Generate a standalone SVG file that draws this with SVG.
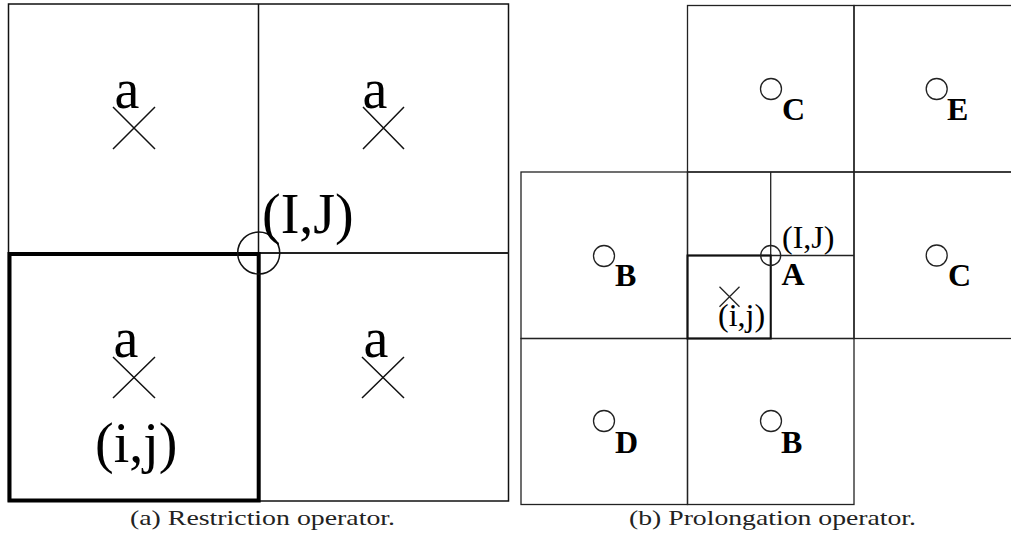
<svg xmlns="http://www.w3.org/2000/svg" width="1011" height="537" viewBox="0 0 1011 537">
<style>
.thin{fill:none;stroke:#111;stroke-width:1.5}
.rthin{fill:none;stroke:#222;stroke-width:1.3}
.thick{fill:none;stroke:#000;stroke-width:4}
.mid{fill:none;stroke:#222;stroke-width:2.2}
.big{font-family:"Liberation Serif","Times New Roman",serif;font-size:56px;fill:#000}
.sm{font-family:"Liberation Serif","Times New Roman",serif;font-size:32px;fill:#000}
.bold{font-family:"Liberation Serif","Times New Roman",serif;font-size:32px;font-weight:bold;fill:#000}
.cap{font-family:"Liberation Serif","Times New Roman",serif;font-size:21px;fill:#222}
</style>
<rect width="1011" height="537" fill="#fff"/>
<g id="panel-a">
  <g id="grid-a">
    <rect class="thin" x="8.5" y="4" width="500" height="497"/>
    <line class="thin" x1="258.5" y1="4" x2="258.5" y2="501"/>
    <line class="mid" x1="8.5" y1="253" x2="508.5" y2="253"/>
    <rect class="thick" x="9.5" y="254" width="249.2" height="246.5"/>
  </g>
  <g id="cell-a-tl">
    <text class="big" x="127" y="108" text-anchor="middle">a</text>
    <path class="thin" d="M113,107 L155,149 M155,107 L113,149"/>
  </g>
  <g id="cell-a-tr">
    <text class="big" x="375" y="108" text-anchor="middle">a</text>
    <path class="thin" d="M363,107 L404,149 M404,107 L363,149"/>
  </g>
  <g id="cell-a-bl">
    <text class="big" x="126" y="357" text-anchor="middle">a</text>
    <path class="thin" d="M113,357 L155,398 M155,357 L113,398"/>
    <text class="big" x="95" y="462">(i,j)</text>
  </g>
  <g id="cell-a-br">
    <text class="big" x="376" y="357" text-anchor="middle">a</text>
    <path class="thin" d="M362,357 L404,398 M404,357 L362,398"/>
  </g>
  <g id="node-IJ-a">
    <circle class="thin" cx="258.7" cy="253" r="21"/>
    <text class="big" x="262" y="233">(I,J)</text>
  </g>
  <text class="cap" x="130" y="525" textLength="265" lengthAdjust="spacingAndGlyphs">(a)  Restriction operator.</text>
</g>
<g id="panel-b">
  <g id="grid-b">
    <rect class="rthin" x="687.5" y="5.5" width="166.5" height="166.5"/>
    <rect class="rthin" x="854" y="5.5" width="170" height="166.5"/>
    <rect class="rthin" x="521" y="172" width="166.5" height="166.5"/>
    <rect class="rthin" x="687.5" y="172" width="166.5" height="166.5"/>
    <rect class="rthin" x="854" y="172" width="170" height="166.5"/>
    <rect class="rthin" x="521" y="338.5" width="166.5" height="166"/>
    <rect class="rthin" x="687.5" y="338.5" width="166.5" height="166"/>
    <line class="rthin" x1="770.7" y1="172" x2="770.7" y2="338.5"/>
    <line class="rthin" x1="687.5" y1="255.5" x2="854" y2="255.5"/>
    <rect fill="none" stroke="#111" stroke-width="2" x="687.5" y="255.5" width="83.2" height="83"/>
  </g>
  <g id="node-C-top">
    <circle class="rthin" cx="771" cy="89" r="10.5"/>
    <text class="bold" x="782" y="120">C</text>
  </g>
  <g id="node-E">
    <circle class="rthin" cx="936.7" cy="89" r="10.5"/>
    <text class="bold" x="947" y="120">E</text>
  </g>
  <g id="node-B-left">
    <circle class="rthin" cx="604" cy="256" r="10.5"/>
    <text class="bold" x="615" y="286">B</text>
  </g>
  <g id="node-C-right">
    <circle class="rthin" cx="936.7" cy="255.5" r="10.5"/>
    <text class="bold" x="948" y="286">C</text>
  </g>
  <g id="node-D">
    <circle class="rthin" cx="604" cy="421" r="10.5"/>
    <text class="bold" x="615" y="453">D</text>
  </g>
  <g id="node-B-bottom">
    <circle class="rthin" cx="771" cy="421" r="10.5"/>
    <text class="bold" x="781" y="453">B</text>
  </g>
  <g id="node-A">
    <circle class="rthin" cx="770.7" cy="255.5" r="10"/>
    <text class="sm" x="782" y="248">(I,J)</text>
    <text class="bold" x="781.5" y="285">A</text>
  </g>
  <g id="node-ij-b">
    <path class="rthin" d="M719.5,286.7 L739.5,306.7 M739.5,286.7 L719.5,306.7"/>
    <text class="sm" x="718" y="326">(i,j)</text>
  </g>
  <text class="cap" x="629" y="525" textLength="287" lengthAdjust="spacingAndGlyphs">(b)  Prolongation operator.</text>
</g>
</svg>
